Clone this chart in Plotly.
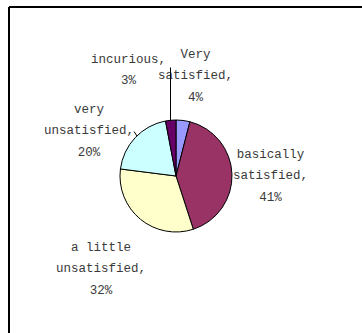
import plotly.graph_objects as go

# ---- data ----
categories = ["Very satisfied", "basically satisfied", "a little unsatisfied",
              "very unsatisfied", "incurious"]
shares = [4, 41, 32, 20, 3]
label_lines = [["Very", "satisfied,", "4%"],
               ["basically", "satisfied,", "41%"],
               ["a little", "unsatisfied,", "32%"],
               ["very", "unsatisfied,", "20%"],
               ["incurious,", "3%"]]
colors = ["#9999FF", "#993366", "#FFFFCC", "#CCFFFF", "#660066"]

W, H = 362, 333
cx, cy, R = 176, 176, 56

fig = go.Figure(go.Pie(
    labels=categories, values=shares, sort=False, direction="clockwise",
    rotation=0, textinfo="none", hoverinfo="label+percent",
    marker=dict(colors=colors, line=dict(color="#000000", width=1)),
    domain=dict(x=[(cx - R) / W, (cx + R) / W], y=[1 - (cy + R) / H, 1 - (cy - R) / H]),
    showlegend=False,
))

# label centres (pixels) for each category, first line centre y
label_pos = [(196, 53), (270, 153), (101, 246), (89, 108), (128, 58)]
for (px, py), lines in zip(label_pos, label_lines):
    txt = "<br>".join('<span style="font-size:12.5px">%s</span>' % s for s in lines)
    fig.add_annotation(
        x=px / W, y=1 - (py - 7.5) / H, xref="paper", yref="paper",
        text=txt, showarrow=False, xanchor="center", yanchor="top",
        align="center",
        font=dict(family="Liberation Mono, DejaVu Sans Mono, monospace", size=16.5, color="#3a3a3a"),
    )

# leader lines
fig.add_annotation(x=170.5 / W, y=1 - (cy - R + 1) / H, xref="paper", yref="paper",
                   text="", showarrow=True, arrowhead=0, arrowwidth=1, arrowcolor="#000",
                   ax=0, ay=-(cy - R + 1 - 66))
fig.add_annotation(x=137 / W, y=1 - 136 / H, xref="paper", yref="paper",
                   text="", showarrow=True, arrowhead=0, arrowwidth=1, arrowcolor="#000",
                   ax=-4, ay=-6)

# frame (top and left edges visible)
fig.add_shape(type="line", xref="paper", yref="paper", x0=9 / W, x1=1.0, y0=1 - 7 / H, y1=1 - 7 / H,
              line=dict(color="#000000", width=2))
fig.add_shape(type="line", xref="paper", yref="paper", x0=9 / W, x1=9 / W, y0=0, y1=1 - 7 / H,
              line=dict(color="#000000", width=2))

fig.update_layout(width=W, height=H, margin=dict(l=0, r=0, t=0, b=0),
                  paper_bgcolor="#FFFFFF", plot_bgcolor="#FFFFFF")
fig.write_html("out.html")
